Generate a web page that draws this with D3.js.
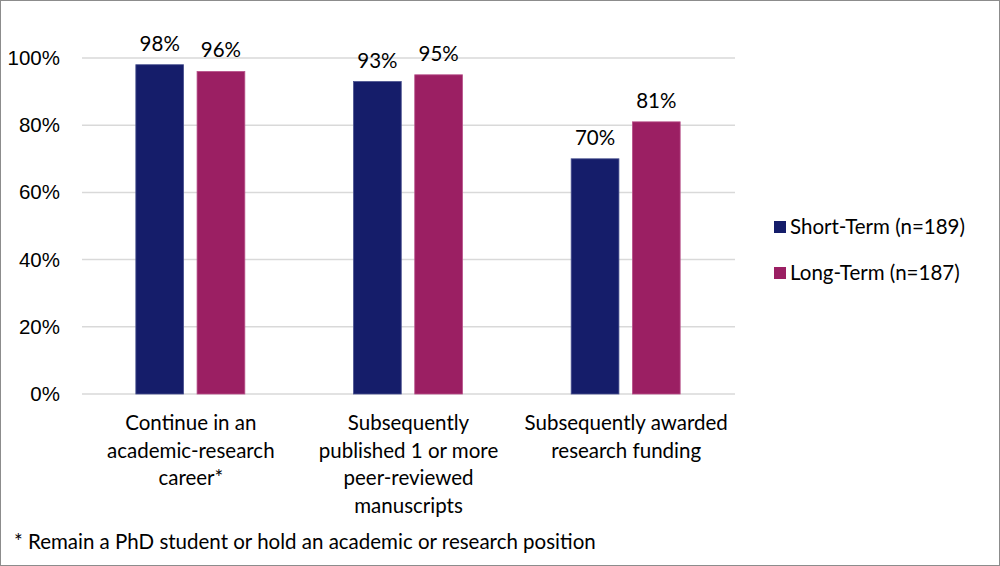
<!DOCTYPE html>
<html>
<head>
<meta charset="utf-8">
<script src="https://cdn.jsdelivr.net/npm/d3@7"></script>
<style>
  body { margin: 0; background: #fff; }
  svg { display: block; font-family: Lato, "Open Sans", sans-serif; }
  .grid line { stroke: #d9d9d9; stroke-width: 1.5; }
  .axis text { font-size: 20.5px; fill: #000; }
</style>
</head>
<body>
<script>
// Chart data
var categories = [
    ["Continue in an", "academic-research", "career*"],
    ["Subsequently", "published 1 or more", "peer-reviewed", "manuscripts"],
    ["Subsequently awarded", "research funding"]
];
var seriesNames = ["Short-Term (n=189)", "Long-Term (n=187)"];
var shortTerm = [98, 93, 70];
var longTerm = [96, 95, 81];
var yTicks = [0, 20, 40, 60, 80, 100];
var colors = ["#151d6a", "#9b1f63"];
var footnote = "* Remain a PhD student or hold an academic or research position";

var W = 1000, H = 566;
var margin = {top: 58, left: 82, right: 265, bottom: 172};
var width = W - margin.left - margin.right,
    height = H - margin.top - margin.bottom;
var fs = "20.5px";

var svg = d3.select("body").append("svg")
    .attr("width", W)
    .attr("height", H);

// frame
svg.append("rect")
    .attr("x", 0.5).attr("y", 0.5)
    .attr("width", W - 1).attr("height", H - 1)
    .attr("fill", "#fff")
    .attr("stroke", "#8c8c8c");

var g = svg.append("g")
    .attr("transform", "translate(" + margin.left + "," + margin.top + ")");

var x0 = d3.scaleBand()
    .domain(d3.range(categories.length))
    .range([0, width]);

var x1 = d3.scaleBand()
    .domain([0, 1])
    .range([0, 109])
    .paddingInner(0.22);

var y = d3.scaleLinear()
    .domain([0, 100])
    .range([height, 0]);

// gridlines
g.append("g")
    .attr("class", "grid")
    .selectAll("line")
    .data(yTicks)
    .enter().append("line")
    .attr("x1", 0)
    .attr("x2", width)
    .attr("y1", function(d) { return y(d); })
    .attr("y2", function(d) { return y(d); });

// y axis labels
var yAxis = d3.axisLeft(y)
    .tickValues(yTicks)
    .tickSize(0)
    .tickPadding(22)
    .tickFormat(function(d) { return d + "%"; });

g.append("g")
    .attr("class", "axis")
    .call(yAxis)
    .call(function(s) { s.select(".domain").remove(); });

// bars
var data = categories.map(function(c, i) {
    return {i: i, values: [shortTerm[i], longTerm[i]]};
});

var groups = g.selectAll(".cat")
    .data(data)
    .enter().append("g")
    .attr("class", "cat")
    .attr("transform", function(d) {
        return "translate(" + (x0(d.i) + x0.bandwidth() / 2 - 55) + ",0)";
    });

groups.selectAll("rect")
    .data(function(d) { return d.values; })
    .enter().append("rect")
    .attr("x", function(d, j) { return x1(j); })
    .attr("y", function(d) { return y(d); })
    .attr("width", x1.bandwidth())
    .attr("height", function(d) { return height - y(d); })
    .attr("fill", function(d, j) { return colors[j]; })
    .attr("stroke", function(d, j) { return j === 0 ? "#4a5290" : "#b8528a"; })
    .attr("stroke-width", 0.8);

groups.selectAll(".val")
    .data(function(d) { return d.values; })
    .enter().append("text")
    .attr("class", "val")
    .attr("x", function(d, j) { return x1(j) + x1.bandwidth() / 2; })
    .attr("y", function(d) { return y(d) - 14; })
    .attr("text-anchor", "middle")
    .style("font-size", fs)
    .text(function(d) { return d + "%"; });

// category labels
var catLabels = g.selectAll(".catlabel")
    .data(categories)
    .enter().append("text")
    .attr("class", "catlabel")
    .attr("text-anchor", "middle")
    .style("font-size", fs)
    .attr("transform", function(d, i) {
        return "translate(" + (x0(i) + x0.bandwidth() / 2) + "," + (height + 36) + ")";
    });

catLabels.selectAll("tspan")
    .data(function(d) { return d; })
    .enter().append("tspan")
    .attr("x", 0)
    .attr("y", function(d, k) { return k * 27.5; })
    .text(function(d) { return d; });

// legend
var legend = svg.append("g")
    .attr("transform", "translate(774,227)");

var items = legend.selectAll(".item")
    .data(seriesNames)
    .enter().append("g")
    .attr("transform", function(d, i) { return "translate(0," + (i * 46) + ")"; });

items.append("rect")
    .attr("x", 0).attr("y", -6)
    .attr("width", 12).attr("height", 12)
    .attr("fill", function(d, i) { return colors[i]; });

items.append("text")
    .attr("x", 16)
    .attr("dy", "0.35em")
    .style("font-size", fs)
    .text(function(d) { return d; });

// footnote
svg.append("text")
    .attr("x", 14)
    .attr("y", 549)
    .style("font-size", fs)
    .text(footnote);
</script>
</body>
</html>
